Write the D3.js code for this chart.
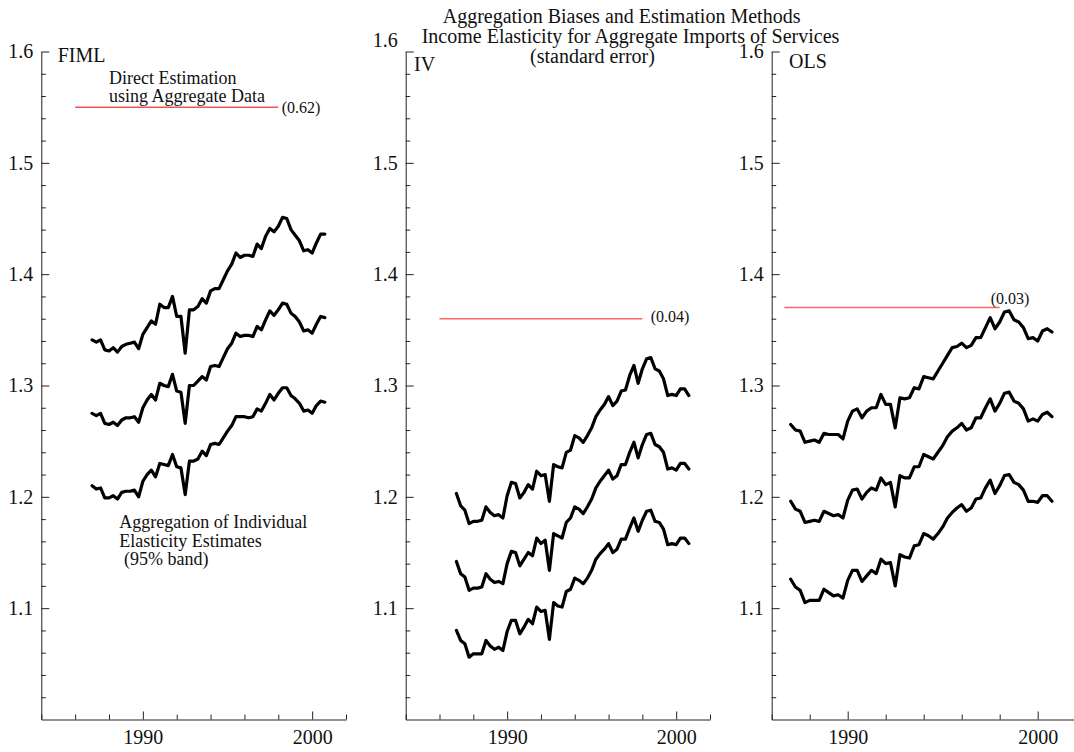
<!DOCTYPE html>
<html>
<head>
<meta charset="utf-8">
<script src="https://cdn.jsdelivr.net/npm/d3@7"></script>
<style>
  html, body { margin: 0; padding: 0; background: #fff; }
  svg text { font-family: "Liberation Serif", "Times New Roman", serif; fill: #111; }
</style>
</head>
<body>
<div id="chart"></div>
<script>
// quarterly estimates, 1987Q1 .. 2000Q4
const firstYear = 1987;

const fimlUpper = [1.341,1.339,1.341,1.332,1.331,1.334,1.330,1.335,1.337,1.338,1.339,1.333,1.346,1.352,1.358,1.355,1.373,1.370,1.370,1.380,1.362,1.362,1.329,1.368,1.368,1.371,1.378,1.374,1.385,1.387,1.387,1.395,1.403,1.409,1.419,1.415,1.417,1.417,1.416,1.427,1.423,1.434,1.441,1.438,1.443,1.451,1.450,1.440,1.435,1.430,1.421,1.422,1.419,1.428,1.436,1.436];
const fimlCenter = [1.275,1.273,1.275,1.266,1.265,1.267,1.264,1.269,1.271,1.271,1.272,1.267,1.280,1.287,1.292,1.287,1.302,1.300,1.299,1.310,1.295,1.294,1.266,1.300,1.300,1.304,1.308,1.305,1.317,1.318,1.317,1.325,1.333,1.338,1.347,1.344,1.345,1.345,1.344,1.353,1.350,1.359,1.367,1.363,1.368,1.374,1.373,1.365,1.362,1.357,1.349,1.350,1.347,1.355,1.362,1.361];
const fimlLower = [1.210,1.207,1.208,1.199,1.199,1.201,1.198,1.204,1.205,1.205,1.206,1.200,1.214,1.220,1.224,1.218,1.230,1.229,1.228,1.238,1.227,1.226,1.202,1.232,1.232,1.234,1.241,1.237,1.247,1.248,1.247,1.253,1.259,1.264,1.272,1.272,1.272,1.271,1.272,1.279,1.277,1.284,1.292,1.287,1.293,1.298,1.298,1.291,1.288,1.284,1.277,1.278,1.275,1.282,1.286,1.285];

const ivUpper = [1.203,1.192,1.188,1.176,1.178,1.178,1.179,1.191,1.186,1.183,1.184,1.181,1.201,1.213,1.212,1.199,1.204,1.211,1.207,1.223,1.219,1.220,1.196,1.229,1.227,1.226,1.240,1.242,1.255,1.253,1.249,1.255,1.262,1.272,1.278,1.283,1.290,1.282,1.286,1.295,1.296,1.309,1.318,1.302,1.315,1.324,1.325,1.315,1.313,1.306,1.291,1.292,1.291,1.297,1.297,1.291];
const ivCenter = [1.142,1.131,1.128,1.116,1.118,1.118,1.119,1.131,1.126,1.123,1.124,1.122,1.140,1.151,1.150,1.138,1.144,1.150,1.147,1.163,1.158,1.161,1.134,1.167,1.165,1.163,1.177,1.181,1.191,1.189,1.185,1.191,1.198,1.208,1.214,1.219,1.224,1.216,1.219,1.229,1.229,1.240,1.249,1.235,1.247,1.256,1.257,1.247,1.245,1.240,1.225,1.226,1.224,1.230,1.230,1.225];
const ivLower = [1.080,1.071,1.068,1.056,1.059,1.059,1.059,1.071,1.066,1.063,1.065,1.062,1.079,1.089,1.089,1.077,1.083,1.090,1.086,1.101,1.097,1.098,1.072,1.105,1.102,1.101,1.115,1.117,1.127,1.125,1.122,1.127,1.134,1.144,1.149,1.153,1.158,1.150,1.153,1.162,1.162,1.172,1.181,1.169,1.179,1.187,1.188,1.178,1.177,1.171,1.157,1.158,1.157,1.163,1.163,1.158];

const olsUpper = [1.265,1.260,1.259,1.249,1.250,1.251,1.249,1.257,1.256,1.256,1.256,1.252,1.268,1.277,1.279,1.271,1.277,1.280,1.280,1.292,1.283,1.283,1.262,1.289,1.288,1.289,1.298,1.297,1.308,1.307,1.306,1.313,1.320,1.327,1.334,1.335,1.338,1.334,1.336,1.343,1.343,1.352,1.361,1.351,1.357,1.366,1.367,1.359,1.357,1.352,1.342,1.343,1.340,1.349,1.351,1.348];
const olsCenter = [1.196,1.189,1.187,1.177,1.178,1.179,1.178,1.187,1.185,1.183,1.184,1.181,1.197,1.206,1.207,1.198,1.204,1.208,1.206,1.217,1.211,1.213,1.191,1.219,1.217,1.217,1.227,1.227,1.238,1.236,1.234,1.240,1.246,1.254,1.259,1.262,1.266,1.260,1.262,1.271,1.271,1.280,1.288,1.277,1.284,1.293,1.294,1.286,1.284,1.279,1.268,1.270,1.268,1.274,1.276,1.272];
const olsLower = [1.126,1.119,1.116,1.105,1.107,1.107,1.107,1.117,1.114,1.111,1.112,1.109,1.125,1.134,1.134,1.124,1.129,1.134,1.131,1.144,1.140,1.141,1.120,1.148,1.146,1.145,1.156,1.157,1.167,1.165,1.162,1.167,1.173,1.181,1.186,1.190,1.193,1.187,1.190,1.198,1.199,1.208,1.215,1.203,1.210,1.219,1.220,1.213,1.211,1.206,1.196,1.196,1.195,1.201,1.201,1.196];

// direct estimation using aggregate data
const panelNames = ["FIML", "IV", "OLS"];
const directValues = [1.55, 1.36, 1.37];
const directErrors = ["(0.62)", "(0.04)", "(0.03)"];
const directStart = [1986, 1986, 1986.67];
const directEnd = [1998, 1998, 1998];

const xDomains = [[1984, 2002], [1984, 2002], [1986, 2002]];
const yDomain = [1.0, 1.6];
const yMajorTicks = [1.1, 1.2, 1.3, 1.4, 1.5, 1.6];
const xMajorTicks = [1990, 2000];

const titleLines = [
   "Aggregation Biases and Estimation Methods",
   "Income Elasticity for Aggregate Imports of Services",
   "(standard error)"
];

const bands = [
   [fimlUpper, fimlCenter, fimlLower],
   [ivUpper, ivCenter, ivLower],
   [olsUpper, olsCenter, olsLower]
];

const width = 1074;
const height = 752;
const plotTop = 51.5;
const plotBottom = 719.5;
const panelLeft = [41.3, 405.7, 771.7];
const panelRight = [346, 710, 1075.7];

const svg = d3.select("#chart").append("svg")
   .attr("width", width)
   .attr("height", height)
   .attr("viewBox", [0, 0, width, height]);

// title
const titleX = [442.7, 421.7, 530];
svg.append("g")
   .selectAll("text")
   .data(titleLines)
   .join("text")
   .attr("x", (d, i) => titleX[i])
   .attr("y", (d, i) => 22.6 + i * 20)
   .style("font-size", "20px")
   .text(d => d);

const labelPos = [[57.7, 62], [414, 71], [789, 68.3]];

panelNames.forEach((name, p) => {

   const x = d3.scaleLinear().domain(xDomains[p]).range([panelLeft[p], panelRight[p]]);
   const y = d3.scaleLinear().domain(yDomain).range([plotBottom, plotTop]);

   const g = svg.append("g");

   // minor ticks
   const yMinor = d3.range(1.02, 1.6, 0.02).filter(v => Math.abs(v * 10 - Math.round(v * 10)) > 0.01);
   g.append("g")
      .attr("transform", `translate(${panelLeft[p]},0)`)
      .call(d3.axisLeft(y).tickValues(yMinor).tickSize(-4.5).tickFormat(""))
      .call(a => a.select(".domain").remove());

   const xMinor = d3.range(xDomains[p][0], xDomains[p][1] + 1, 2).filter(v => v % 10 !== 0);
   g.append("g")
      .attr("transform", `translate(0,${plotBottom})`)
      .call(d3.axisBottom(x).tickValues(xMinor).tickSize(-5).tickFormat(""))
      .call(a => a.select(".domain").remove());

   // main axes
   const yAxis = g.append("g")
      .attr("transform", `translate(${panelLeft[p]},0)`)
      .call(d3.axisLeft(y).tickValues(yMajorTicks).tickSize(-8).tickSizeOuter(0).tickPadding(8).tickFormat(d3.format(".1f")));
   yAxis.selectAll("text").style("font-size", "20px").style("font-family", "Liberation Serif");
   if (p === 1) {
      yAxis.selectAll(".tick").filter(d => d === 1.6).select("text").attr("dy", "-0.23em");
   }

   const xAxis = g.append("g")
      .attr("transform", `translate(0,${plotBottom})`)
      .call(d3.axisBottom(x).tickValues(xMajorTicks).tickSize(-8).tickSizeOuter(0).tickPadding(10).tickFormat(d3.format("d")));
   xAxis.selectAll("text").style("font-size", "20px").style("font-family", "Liberation Serif");

   g.selectAll(".domain, .tick line").attr("stroke", "#222");

   // direct estimate
   g.append("line")
      .attr("x1", x(directStart[p]))
      .attr("x2", x(directEnd[p]))
      .attr("y1", y(directValues[p]))
      .attr("y2", y(directValues[p]))
      .attr("stroke", p === 0 ? "#e00000" : "#ff6464")
      .attr("stroke-width", p === 0 ? 1 : 1.5);

   // band lines
   const line = d3.line()
      .x((d, i) => x(firstYear + i / 4))
      .y(d => y(d));

   g.append("g")
      .attr("fill", "none")
      .attr("stroke", "#000")
      .attr("stroke-width", 3.2)
      .attr("stroke-linejoin", "round")
      .attr("stroke-linecap", "round")
      .selectAll("path")
      .data(bands[p])
      .join("path")
      .attr("d", line);

   g.append("text")
      .attr("x", labelPos[p][0])
      .attr("y", labelPos[p][1])
      .style("font-size", "20px")
      .text(name);
});

// standard error labels
const errPos = [[281.7, 113], [650.7, 322], [990.7, 303.5]];
svg.append("g")
   .selectAll("text")
   .data(directErrors)
   .join("text")
   .attr("x", (d, i) => errPos[i][0])
   .attr("y", (d, i) => errPos[i][1])
   .style("font-size", "16px")
   .text(d => d);

// annotations in the FIML panel
const notes = [
   ["Direct Estimation", 109, 84.3],
   ["using Aggregate Data", 109, 101.7],
   ["Aggregation of Individual", 119.3, 528.3],
   ["Elasticity Estimates", 119.3, 546.7],
   ["(95% band)", 124, 565]
];
svg.append("g")
   .selectAll("text")
   .data(notes)
   .join("text")
   .attr("x", d => d[1])
   .attr("y", d => d[2])
   .style("font-size", "18px")
   .text(d => d[0]);
</script>
</body>
</html>
